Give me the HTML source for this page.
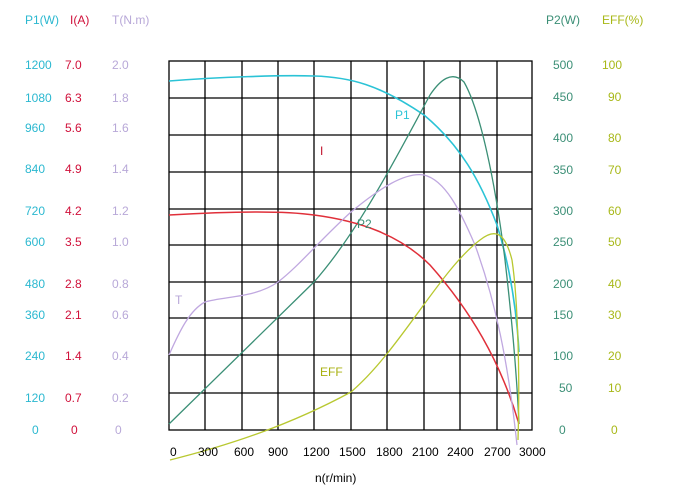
<!DOCTYPE html>
<html><head><meta charset="utf-8"><style>
html,body{margin:0;padding:0;background:#fff;width:679px;height:498px;overflow:hidden}
text{font-family:"Liberation Sans",sans-serif;font-size:12px}
</style></head><body>
<svg width="679" height="498" viewBox="0 0 679 498" xmlns="http://www.w3.org/2000/svg">
<g stroke="#000" stroke-width="1.3" fill="none">
<rect x="169" y="61" width="363" height="369"/>
<path d="M205 61V430M242 61V430M278 61V430M314 61V430M351 61V430M387 61V430M424 61V430M460 61V430M497 61V430"/>
<path d="M169 98H532M169 135H532M169 172H532M169 209H532M169 245H532M169 282H532M169 318H532M169 355H532M169 393H532"/>
</g>
<g fill="none" stroke-width="1.3">
<path stroke="#2bc3d6" stroke-width="1.6" d="M169 81 C220 77 280 75 314 76 C350 77 380 85 424 115 C460 145 480 180 497 225 C508 260 516 300 519 352"/>
<path stroke="#3b8f76" d="M169 424 L314 282 C360 230 400 150 430 95 C440 80 452 70 464 82 C480 110 495 180 505 260 C512 320 517 380 519 424"/>
<path stroke="#e0303a" stroke-width="1.5" d="M169 215 C220 212 280 210 314 215 C360 221 400 235 430 265 C470 310 500 360 519 424"/>
<path stroke="#c0a8e0" d="M169 355 C180 330 190 310 205 302 C225 296 255 298 278 282 C300 265 320 240 351 212 C380 188 405 172 424 175 C445 180 460 210 475 245 C495 300 508 360 517 445"/>
<path stroke="#b8c830" d="M170 460 C230 445 290 425 351 392 C400 350 440 270 480 240 C495 228 505 232 512 260 C518 300 520 380 518 440"/>
</g>
<text x="395" y="119" fill="#2bc3d6">P1</text>
<text x="320" y="155" fill="#c0102a">I</text>
<text x="357" y="228" fill="#3b8f76">P2</text>
<text x="175" y="304" fill="#b8a8d8">T</text>
<text x="320" y="376" fill="#a8b010">EFF</text>
<g fill="#2bb8d0"><text x="25" y="24">P1(W)</text>
<text x="25" y="69">1200</text><text x="25" y="102">1080</text><text x="25" y="132">960</text><text x="25" y="173">840</text><text x="25" y="215">720</text><text x="25" y="246">600</text><text x="25" y="288">480</text><text x="25" y="319">360</text><text x="25" y="360">240</text><text x="25" y="402">120</text><text x="32" y="434">0</text></g>
<g fill="#d0103a"><text x="70" y="24">I(A)</text>
<text x="65" y="69">7.0</text><text x="65" y="102">6.3</text><text x="65" y="132">5.6</text><text x="65" y="173">4.9</text><text x="65" y="215">4.2</text><text x="65" y="246">3.5</text><text x="65" y="288">2.8</text><text x="65" y="319">2.1</text><text x="65" y="360">1.4</text><text x="65" y="402">0.7</text><text x="71" y="434">0</text></g>
<g fill="#b8a8d8"><text x="112" y="24">T(N.m)</text>
<text x="112" y="69">2.0</text><text x="112" y="102">1.8</text><text x="112" y="132">1.6</text><text x="112" y="173">1.4</text><text x="112" y="215">1.2</text><text x="112" y="246">1.0</text><text x="112" y="288">0.8</text><text x="112" y="319">0.6</text><text x="112" y="360">0.4</text><text x="112" y="402">0.2</text><text x="115" y="434">0</text></g>
<g fill="#3b8f76"><text x="546" y="24">P2(W)</text>
<text x="553" y="69">500</text><text x="553" y="101">450</text><text x="553" y="142">400</text><text x="553" y="174">350</text><text x="553" y="215">300</text><text x="553" y="246">250</text><text x="553" y="288">200</text><text x="553" y="319">150</text><text x="553" y="360">100</text><text x="559" y="392">50</text><text x="559" y="434">0</text></g>
<g fill="#a8b818"><text x="602" y="24">EFF(%)</text>
<text x="602" y="69">100</text><text x="608" y="101">90</text><text x="608" y="142">80</text><text x="608" y="174">70</text><text x="608" y="215">60</text><text x="608" y="246">50</text><text x="608" y="288">40</text><text x="608" y="319">30</text><text x="608" y="360">20</text><text x="608" y="392">10</text><text x="611" y="434">0</text></g>
<g fill="#000"><text x="170" y="456">0</text><text x="198" y="456">300</text><text x="234" y="456">600</text><text x="268" y="456">900</text><text x="303" y="456">1200</text><text x="339" y="456">1500</text><text x="376" y="456">1800</text><text x="412" y="456">2100</text><text x="447" y="456">2400</text><text x="484" y="456">2700</text><text x="519" y="456">3000</text>
<text x="315" y="482">n(r/min)</text></g>
</svg>
</body></html>
